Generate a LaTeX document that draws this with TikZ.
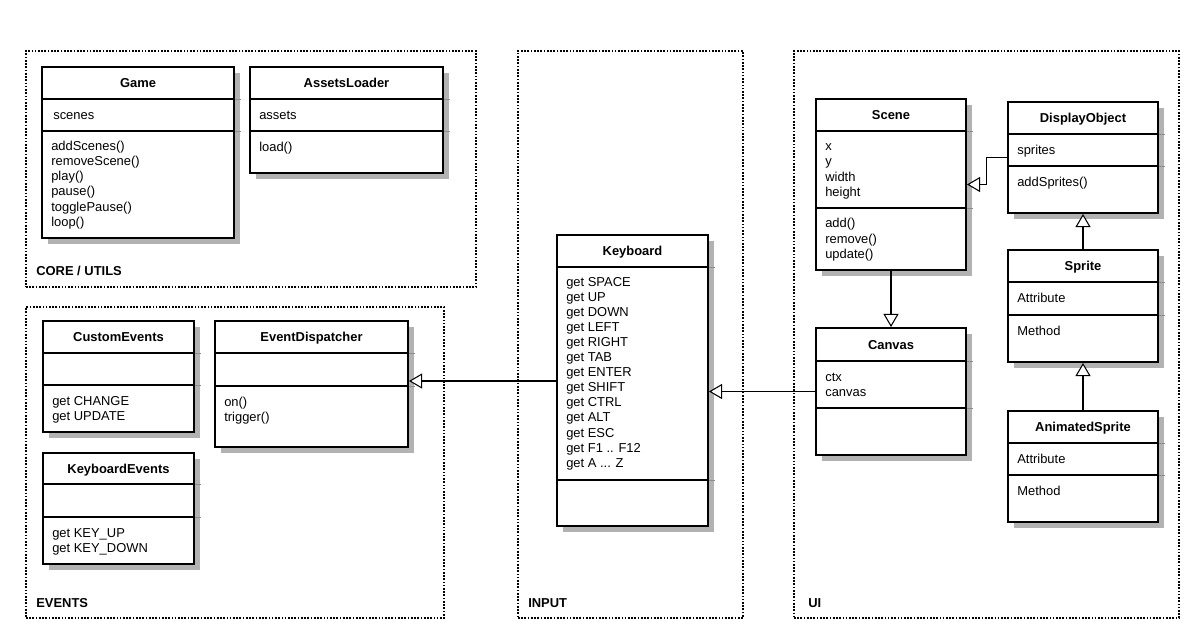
\documentclass[tikz,border=0pt]{standalone}
\usepackage{fontspec}
\setmainfont{Liberation Sans}
\usetikzlibrary{fit,shadows,arrows.meta}

\begin{document}
\begin{tikzpicture}[x=0.025cm, y=-0.025cm]
\tikzset{pkgframe/.style={draw, line width=0.9pt, dash pattern=on 1.2pt off 1.1pt, inner sep=0pt},
  pkglabel/.style={font=\fontsize{9.2}{10.67}\selectfont\bfseries, anchor=base west, inner sep=0pt},
  classbox/.style={draw, line width=1.4pt, fill=white, inner sep=0pt,
    drop shadow={shadow xshift=0.15cm, shadow yshift=-0.15cm, fill=black!30, opacity=1}},
  ctitle/.style={font=\fontsize{9.2}{10.67}\selectfont\bfseries, text height=6.6pt, text depth=0pt, inner sep=0pt},
  members/.style={font=\fontsize{9.2}{10.67}\selectfont, align=left, anchor=base west, inner sep=0pt},
  sepline/.style={line width=1.4pt},
  shadetick/.style={line width=0.7pt, black!45},
  extends/.style={draw, line width=0.75pt, -{Triangle[length=0.33cm, width=0.38cm, fill=white]}}}
\useasboundingbox (0,0) rectangle (1200,639);

% packages
\node[pkgframe, fit={(26,51) (476,287)}] (core) {};
\node[pkgframe, fit={(26,307) (444,618)}] (events) {};
\node[pkgframe, fit={(518,51) (743,618)}] (input) {};
\node[pkgframe, fit={(794,51) (1179,618)}] (ui) {};
\node[pkglabel] (core-l) at (36,275.5) {CORE / UTILS};
\node[pkglabel] (events-l) at (36,607.5) {EVENTS};
\node[pkglabel] (input-l) at (528,607.5) {INPUT};
\node[pkglabel] (ui-l) at (808,607.5) {UI};

% core / utils  (multi-line members sit on their last baseline)
\node[classbox, fit={(42,67) (234,238)}] (game) {};
\node[ctitle] (game-t) at (game.north |- 0,83) {Game};
\node[members] (game-a) at (53,119) {scenes};
\node[members] (game-m) at (51,226) {addScenes()\\removeScene()\\play()\\pause()\\togglePause()\\loop()};
\node[classbox, fit={(250,67) (443,173)}] (assets) {};
\node[ctitle] (assets-t) at (assets.north |- 0,83) {AssetsLoader};
\node[members] (assets-a) at (259,119) {assets};
\node[members] (assets-m) at (259,151) {load()};

% events
\node[classbox, fit={(43,321) (194,432)}] (custom) {};
\node[ctitle] (custom-t) at (custom.north |- 0,337) {CustomEvents};
\node[members] (custom-m) at (52,420) {get CHANGE\\get UPDATE};
\node[classbox, fit={(43,453) (194,564)}] (kbevents) {};
\node[ctitle] (kbevents-t) at (kbevents.north |- 0,468.5) {KeyboardEvents};
\node[members] (kbevents-m) at (52,552) {get KEY\_UP\\get KEY\_DOWN};
\node[classbox, fit={(215,321) (408,447)}] (dispatcher) {};
\node[ctitle] (dispatcher-t) at (dispatcher.north |- 0,337) {EventDispatcher};
\node[members] (dispatcher-m) at (224,421) {on()\\trigger()};

% input
\node[classbox, fit={(557,235) (708,526)}] (keyboard) {};
\node[ctitle] (keyboard-t) at (keyboard.north |- 0,251) {Keyboard};
\node[members] (keyboard-a) at (566,467) {get SPACE\\get UP\\get DOWN\\get LEFT\\get RIGHT\\get TAB\\get ENTER\\get SHIFT\\get CTRL\\get ALT\\get ESC\\get F1 .. F12\\get A ... Z};

% ui
\node[classbox, fit={(816,99) (966,270)}] (scene) {};
\node[ctitle] (scene-t) at (scene.north |- 0,115) {Scene};
\node[members] (scene-a) at (825,196) {x\\y\\width\\height};
\node[members] (scene-m) at (825,258) {add()\\remove()\\update()};
\node[classbox, fit={(1008,102) (1158,213)}] (display) {};
\node[ctitle] (display-t) at (display.north |- 0,118) {DisplayObject};
\node[members] (display-a) at (1017,154) {sprites};
\node[members] (display-m) at (1017,186) {addSprites()};
\node[classbox, fit={(1008,250) (1158,362)}] (sprite) {};
\node[ctitle] (sprite-t) at (sprite.north |- 0,266) {Sprite};
\node[members] (sprite-a) at (1017,302) {Attribute};
\node[members] (sprite-m) at (1017,335) {Method};
\node[classbox, fit={(816,328) (966,455)}] (canvas) {};
\node[ctitle] (canvas-t) at (canvas.north |- 0,344.5) {Canvas};
\node[members] (canvas-a) at (825,396) {ctx\\canvas};
\node[classbox, fit={(1008,411) (1158,522)}] (animated) {};
\node[ctitle] (animated-t) at (animated.north |- 0,427) {AnimatedSprite};
\node[members] (animated-a) at (1017,463) {Attribute};
\node[members] (animated-m) at (1017,495) {Method};

% compartments
\foreach \c/\s in {game/99, game/131, assets/99, assets/131, custom/353, custom/385,
    kbevents/484, kbevents/517, dispatcher/353, dispatcher/386, keyboard/267, keyboard/480,
    scene/131, scene/208, display/134, display/166, sprite/282, sprite/315,
    canvas/361, canvas/408, animated/443, animated/475}
{
  \draw[shadetick] (\c.east |- 0,\s) -- ++(6,0);
  \draw[sepline] (\c.west |- 0,\s) -- (\c.east |- 0,\s);
}

% generalisations
\draw[extends] (keyboard.west |- 0,381) -- (dispatcher.east |- 0,381);
\draw[extends] (canvas.west) -- (canvas.west -| keyboard.east);
\draw[extends] (scene.south) -- (canvas.north);
\draw[extends] (display.west) -- ++(-21,0) |- (scene.east);
\draw[extends] (sprite.north) -- (display.south);
\draw[extends] (animated.north) -- (sprite.south);
\end{tikzpicture}
\end{document}
